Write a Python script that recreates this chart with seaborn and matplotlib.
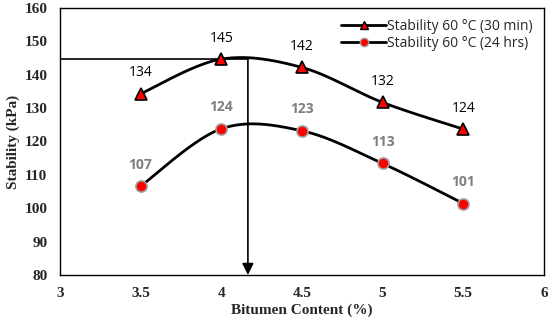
import numpy as np
import pandas as pd
import seaborn as sns
import matplotlib
matplotlib.use("Agg")
import matplotlib.pyplot as plt

# data
bitumen = [3.5, 4.0, 4.5, 5.0, 5.5]
stab_30min = [134.3, 144.7, 142.2, 131.7, 123.7]
stab_24hrs = [106.6, 123.8, 123.2, 113.4, 101.4]
labels_30min = ["134", "145", "142", "132", "124"]
labels_24hrs = ["107", "124", "123", "113", "101"]
opt_content = 4.165
opt_stability = 144.7


def smooth(xs, ys, n=40):
    # excel-style smoothed line (bezier through the points)
    p = np.column_stack([xs, ys]).astype(float)
    p = np.vstack([p[0], p, p[-1]])
    out = []
    for i in range(1, len(p) - 2):
        p0, p1, p2, p3 = p[i], p[i] + (p[i + 1] - p[i - 1]) / 6, p[i + 1] - (p[i + 2] - p[i]) / 6, p[i + 1]
        t = np.linspace(0, 1, n)[:, None]
        out.append((1 - t) ** 3 * p0 + 3 * (1 - t) ** 2 * t * p1 + 3 * (1 - t) * t ** 2 * p2 + t ** 3 * p3)
    c = np.vstack(out)
    return c[:, 0], c[:, 1]


sns.set_style("white")
plt.rcParams["font.family"] = ["Liberation Serif", "DejaVu Serif"]

fig = plt.figure(figsize=(5.5, 3.23), dpi=100)
ax = fig.add_axes([0.109, 0.149, 0.88, 0.826])

for ys, mk, ec, ms, lab in [(stab_30min, "^", "black", 8, "Stability 60 °C (30 min)"),
                            (stab_24hrs, "o", "#a0a0a0", 8, "Stability 60 °C (24 hrs)")]:
    sx, sy = smooth(bitumen, ys)
    df = pd.DataFrame({"x": sx, "y": sy})
    sns.lineplot(data=df, x="x", y="y", sort=False, color="black", lw=2, ax=ax, zorder=2)
    ax.plot(bitumen, ys, ls="none", marker=mk, ms=ms, mfc="red", mec=ec, mew=1.2, zorder=3)
    ax.plot([], [], color="black", lw=2, marker=mk, ms=6, mfc="red", mec=ec, label=lab)

for x, y, t in zip(bitumen, stab_30min, labels_30min):
    ax.annotate(t, (x, y), xytext=(0, 15), textcoords="offset points", ha="center", va="center",
                fontsize=10, family=["Open Sans", "DejaVu Sans"], color="black")
for x, y, t in zip(bitumen, stab_24hrs, labels_24hrs):
    ax.annotate(t, (x, y), xytext=(0, 15.5), textcoords="offset points", ha="center", va="center",
                fontsize=10, family=["Open Sans", "DejaVu Sans"], fontweight="bold", color="#7f7f7f")

# optimum marker lines
ax.plot([3, opt_content], [opt_stability, opt_stability], color="black", lw=1.2, zorder=1)
ax.annotate("", xy=(opt_content, 80), xytext=(opt_content, opt_stability),
            arrowprops=dict(arrowstyle="-|>", color="black", lw=1.2, mutation_scale=17, shrinkA=0, shrinkB=0))

ax.set_xlim(3, 6)
ax.set_ylim(80, 160)
ax.set_xticks([3, 3.5, 4, 4.5, 5, 5.5, 6])
ax.set_xticklabels(["3", "3.5", "4", "4.5", "5", "5.5", "6"])
ax.set_yticks(range(80, 161, 10))
ax.tick_params(axis="both", direction="out", length=4, width=1, labelsize=11, color="black", pad=5)
for lab in ax.get_xticklabels() + ax.get_yticklabels():
    lab.set_fontweight("bold")
ax.set_xlabel("Bitumen Content (%)", fontsize=11, fontweight="bold", labelpad=2)
ax.set_ylabel("Stability (kPa)", fontsize=11, fontweight="bold", labelpad=3)
for s in ax.spines.values():
    s.set_color("black")
    s.set_linewidth(1)

leg = ax.legend(loc="upper right", frameon=False, handlelength=3.2,
                borderaxespad=0.4, labelspacing=0.1, handletextpad=0.1,
                prop={"family": ["Open Sans", "DejaVu Sans"], "size": 10})

fig.savefig("out.png", dpi=100)
